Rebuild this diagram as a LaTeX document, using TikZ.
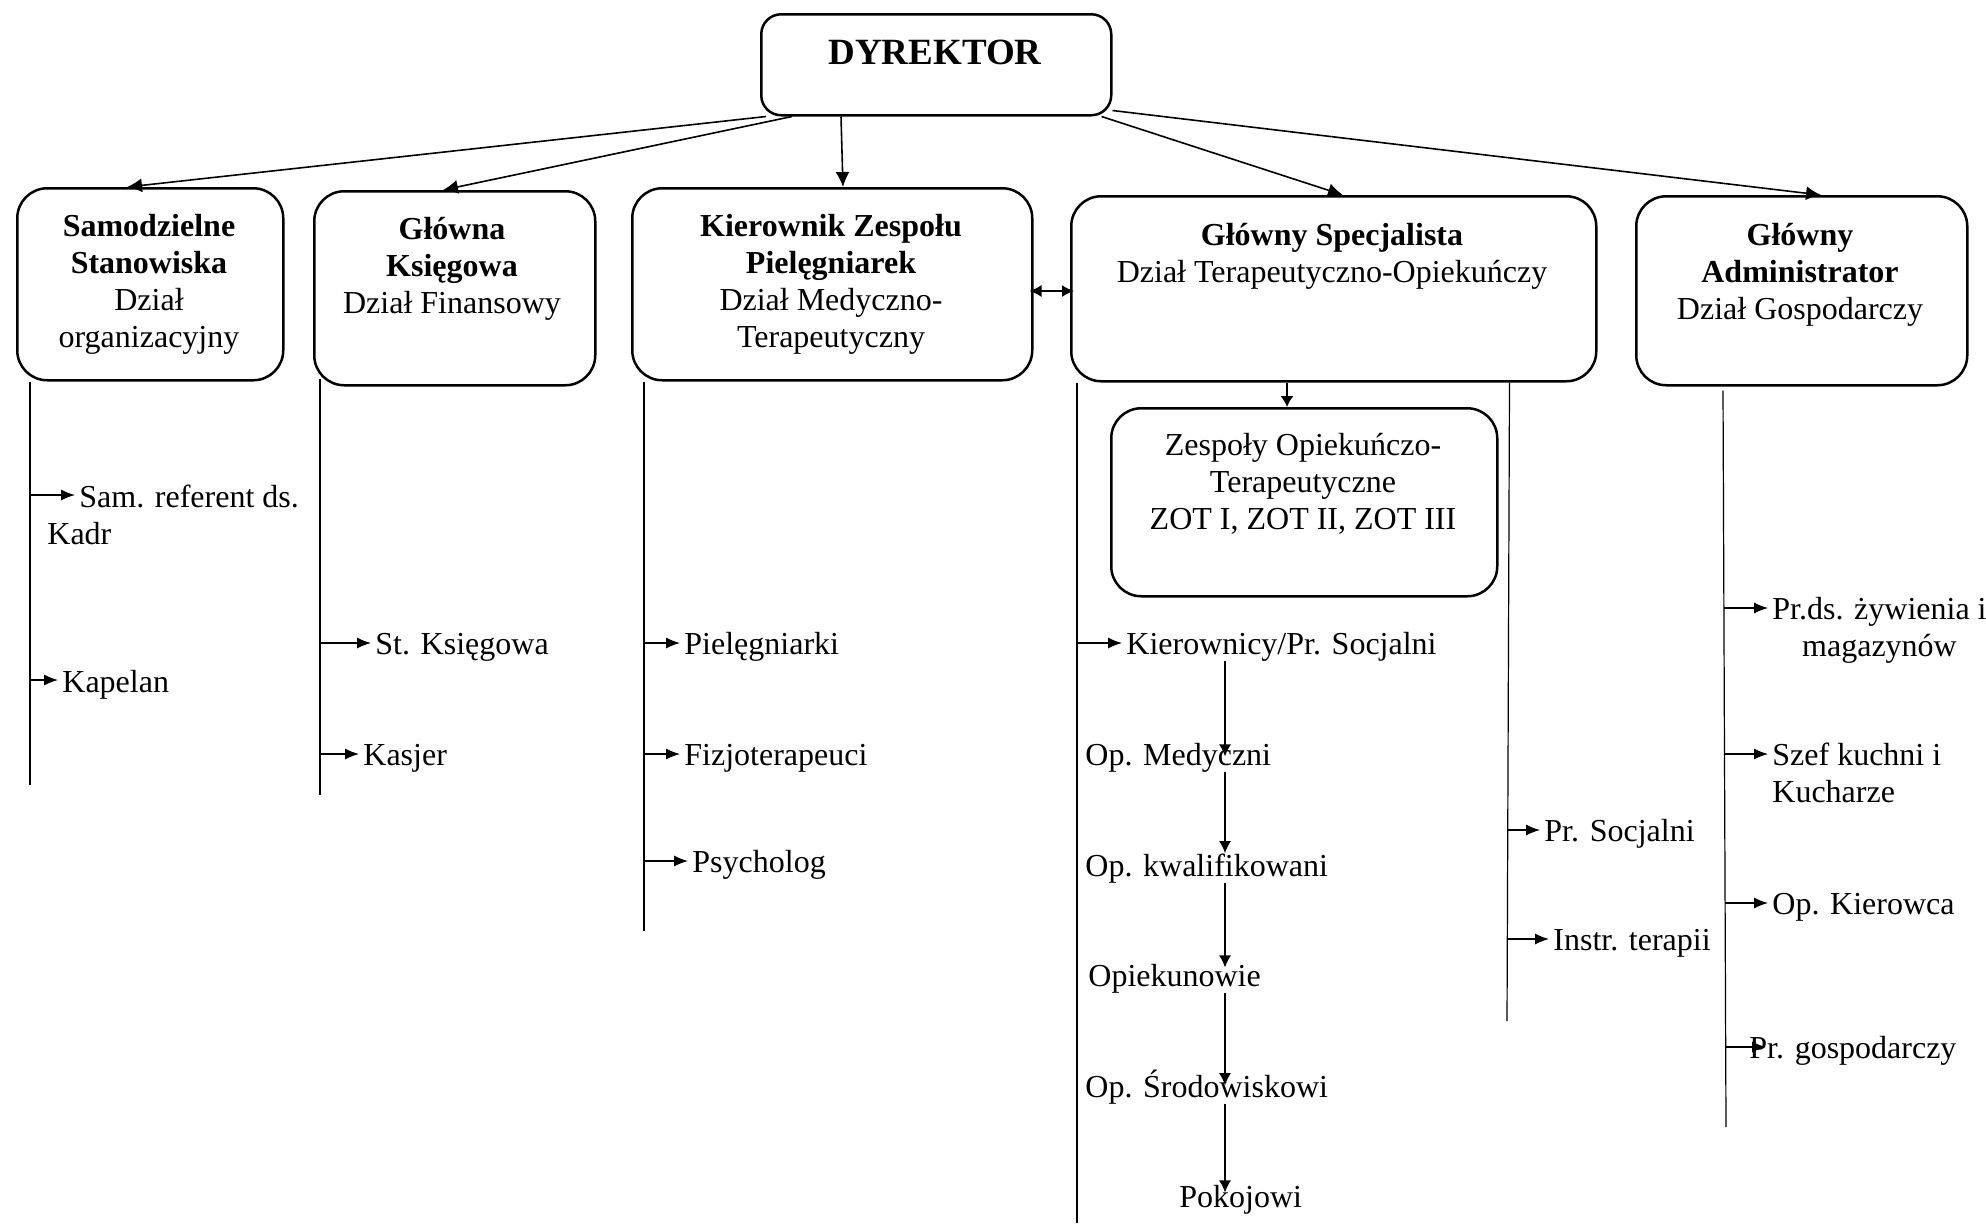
\documentclass[tikz,border=0pt]{standalone}
\usepackage{fontspec}
\setmainfont{Liberation Serif}
\usetikzlibrary{arrows.meta}
\begin{document}
\begin{tikzpicture}[x=0.5pt,y=-0.5pt,
  box/.style={draw, rounded corners=15pt, line width=1.25pt, inner sep=0, anchor=north west},
  btxt/.style={align=center, anchor=base, inner sep=0, font=\fontsize{16}{18.5}\selectfont},
  item/.style={anchor=base west, inner xsep=2pt, inner ysep=0, font=\fontsize{16}{18.5}\selectfont},
  main/.style={-{Latex[length=7.5pt,width=7pt]}, line width=0.8pt},
  sub/.style={-{Latex[length=7pt,width=5.5pt]}, line width=0.6pt},
  chain/.style={-{Latex[length=6pt,width=6pt]}, line width=0.6pt},
  stem/.style={line width=0.6pt}]
\useasboundingbox (0,0) rectangle (1986,1223);

% boxes
\node[box, rounded corners=10pt, minimum width=175pt, minimum height=50.5pt] (d) at (760,13) {};
\node[box, minimum width=133pt, minimum height=96pt] (b1) at (16,187) {};
\node[box, minimum width=140.5pt, minimum height=97pt] (b2) at (313,190) {};
\node[box, minimum width=200pt, minimum height=96pt] (b3) at (631,187) {};
\node[box, minimum width=262.5pt, minimum height=92.5pt] (b4) at (1070,195) {};
\node[box, minimum width=165.5pt, minimum height=94.5pt] (b5) at (1635,195) {};
\node[box, minimum width=193pt, minimum height=94pt] (zot) at (1110,407) {};

% box texts (base = baseline of the last line)
\node[btxt, font=\bfseries\fontsize{18.5}{22}\selectfont] (td) at (935,64) {DYREKTOR};
\node[btxt] (t1) at (149,347) {\textbf{Samodzielne}\\\textbf{Stanowiska}\\Dział\\organizacyjny};
\node[btxt] (t2) at (452,313) {\textbf{Główna}\\\textbf{Księgowa}\\Dział Finansowy};
\node[btxt] (t3) at (831,347) {\textbf{Kierownik Zespołu}\\\textbf{Pielęgniarek}\\Dział Medyczno-\\Terapeutyczny};
\node[btxt] (t4) at (1332,282) {\textbf{Główny Specjalista}\\Dział Terapeutyczno-Opiekuńczy};
\node[btxt] (t5) at (1800,319) {\textbf{Główny}\\\textbf{Administrator}\\Dział Gospodarczy};
\node[btxt] (t6) at (1303,529) {Zespoły Opiekuńczo-\\Terapeutyczne\\ZOT I, ZOT II, ZOT III};

% arrows from director
\draw[main] ([xshift=3pt]d.south west) -- ([xshift=55.5pt]b1.north west);
\draw[main] ([xshift=16pt]d.south west) -- ([xshift=65pt]b2.north west);
\draw[main] ([xshift=40.5pt]d.south west) -- ([xshift=106pt]b3.north west);
\draw[main] ([xshift=-5.5pt]d.south east) -- ([xshift=136.5pt]b4.north west);
\draw[main] ([yshift=3pt]d.south east) -- ([xshift=93pt]b5.north west);

% double arrow and ZOT arrow
\coordinate (dy) at (0,291);
\draw[{Latex[length=6pt,width=6pt]}-{Latex[length=6pt,width=6pt]}, line width=0.8pt, shorten <=-2pt, shorten >=-2pt] (b3.east |- dy) -- (b4.west |- dy);
\coordinate (zx) at (1287,0);
\draw[-{Latex[length=5.5pt,width=6.5pt]}, line width=0.8pt] (b4.south -| zx) -- (zot.north -| zx);

% items
\node[item, align=left] (sam) at (75,544) {Sam. referent ds.\\\hspace*{-16pt}Kadr};
\node[item] (kap) at (58,692) {Kapelan};
\node[item] (stk) at (371,654) {St. Księgowa};
\node[item] (kas) at (359,765) {Kasjer};
\node[item] (pie) at (680,654) {Pielęgniarki};
\node[item] (fiz) at (680,765) {Fizjoterapeuci};
\node[item] (psy) at (688,872) {Psycholog};
\node[item] (kie) at (1122,654) {Kierownicy/Pr. Socjalni};
\node[item] (opm) at (1081,765) {Op. Medyczni};
\node[item] (opk) at (1081,876) {Op. kwalifikowani};
\node[item] (opi) at (1084,986) {Opiekunowie};
\node[item] (ops) at (1081,1097) {Op. Środowiskowi};
\node[item] (pok) at (1175,1207) {Pokojowi};
\node[item] (prs) at (1540,841) {Pr. Socjalni};
\node[item] (ins) at (1549,950) {Instr. terapii};
\node[item, align=center] (prd) at (1768,656) {Pr.ds. żywienia i\\magazynów};
\node[item, align=left] (sze) at (1768,802) {Szef kuchni i\\Kucharze};
\node[item] (opkr) at (1768,914) {Op. Kierowca};
\node[item] (prg) at (1745,1058) {Pr. gospodarczy};

% stems
\coordinate (e1) at (30,785);
\coordinate (e2) at (320,795);
\coordinate (e3) at (644,931);
\coordinate (e4) at (1077,1223);
\coordinate (e5) at (1507,1021);
\coordinate (e6) at (1726,1127);
\draw[stem] ([xshift=7pt]b1.south west) -- (e1);
\draw[stem] ([xshift=3.5pt,yshift=4pt]b2.south west) -- (e2);
\draw[stem] ([xshift=6.5pt]b3.south west) -- (e3);
\draw[stem] ([xshift=3.5pt]b4.south west) -- (e4);
\draw[stem] ([xshift=-44pt]b4.south east) -- (e5);
\draw[stem] ([xshift=44pt,yshift=-2pt]b5.south west) -- (e6);

% item arrows
\coordinate (a1) at (30,495);
\coordinate (a2) at (30,680);
\coordinate (a3) at (320,643);
\coordinate (a4) at (320,754);
\coordinate (a5) at (644,643);
\coordinate (a6) at (644,754);
\coordinate (a7) at (644,861);
\coordinate (a8) at (1077,643);
\coordinate (a9) at (1507,830);
\coordinate (a10) at (1507,939);
\coordinate (a11) at (1724,608);
\coordinate (a12) at (1725,754);
\coordinate (a13) at (1725,903);
\coordinate (a14) at (1726,1047);
\draw[sub] (a1) -- (a1 -| sam.west);
\draw[sub] (a2) -- (a2 -| kap.west);
\draw[sub] (a3) -- (a3 -| stk.west);
\draw[sub] (a4) -- (a4 -| kas.west);
\draw[sub] (a5) -- (a5 -| pie.west);
\draw[sub] (a6) -- (a6 -| fiz.west);
\draw[sub] (a7) -- (a7 -| psy.west);
\draw[sub] (a8) -- (a8 -| kie.west);
\draw[sub] (a9) -- (a9 -| prs.west);
\draw[sub] (a10) -- (a10 -| ins.west);
\draw[sub] (a11) -- (a11 -| prd.west);
\draw[sub] (a12) -- (a12 -| sze.west);
\draw[sub] (a13) -- (a13 -| opkr.west);
\draw[sub, shorten >=-10.5pt] (a14) -- (a14 -| prg.west);

% chain
\coordinate (cx) at (1225,0);
\draw[chain, shorten >=-7pt] (kie.south -| cx) -- (opm.north -| cx);
\draw[chain] (opm.south -| cx) -- (opk.north -| cx);
\draw[chain, shorten >=-2pt] (opk.south -| cx) -- (opi.north -| cx);
\draw[chain, shorten >=-8pt] (opi.south -| cx) -- (ops.north -| cx);
\draw[chain, shorten >=-4pt] (ops.south -| cx) -- (pok.north -| cx);
\end{tikzpicture}
\end{document}
